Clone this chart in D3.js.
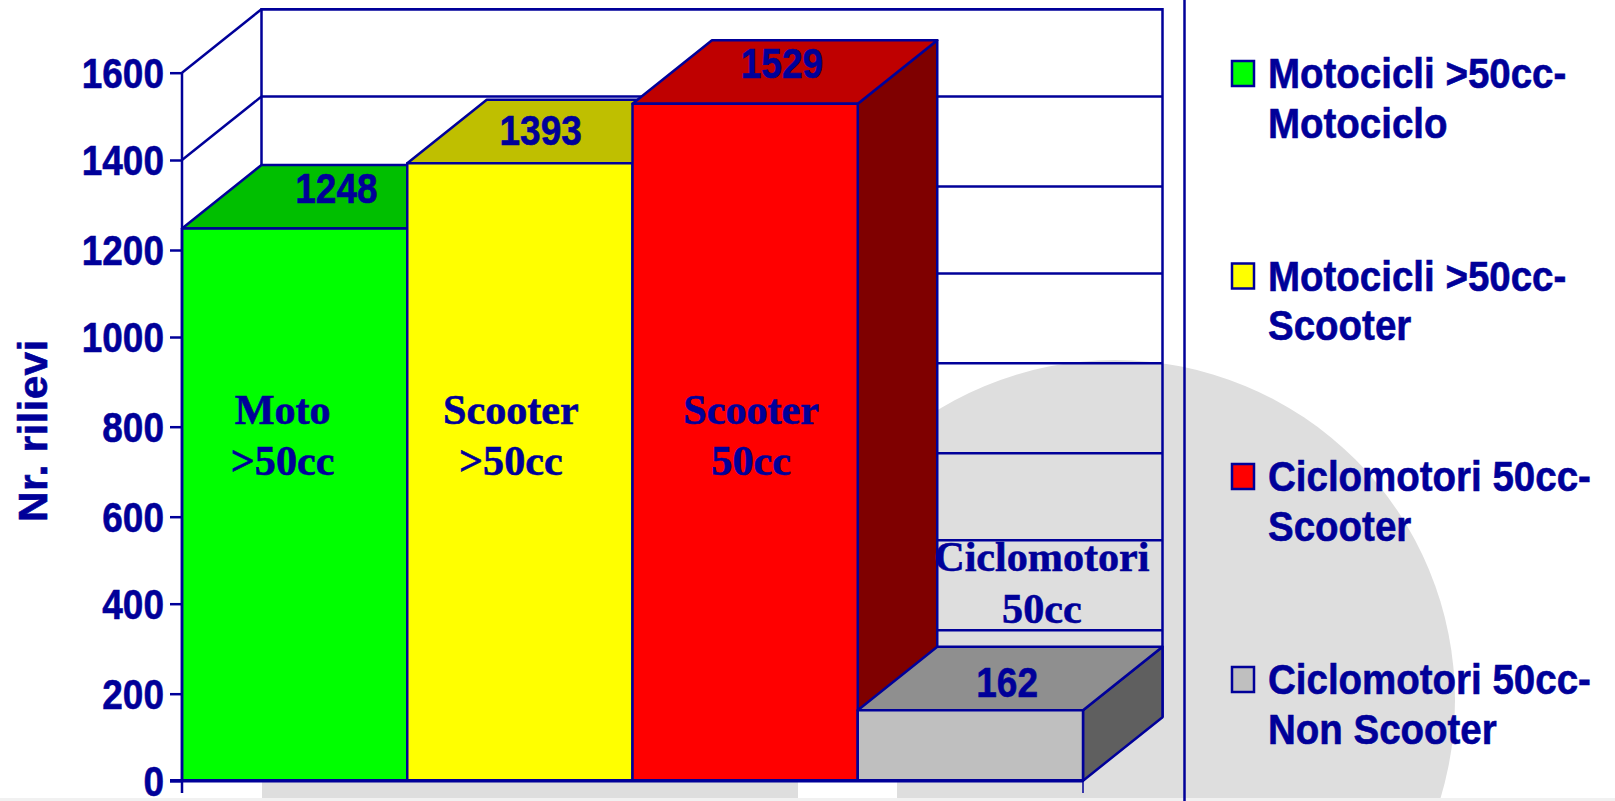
<!DOCTYPE html>
<html>
<head>
<meta charset="utf-8">
<script src="https://cdn.jsdelivr.net/npm/d3@7"></script>
<style>
html,body{margin:0;padding:0;background:#fff;overflow:hidden}
svg{display:block}
text{fill:#000099;stroke:#000099;stroke-width:0.6px}
</style>
</head>
<body>
<svg id="chart" width="1615" height="801"></svg>
<script>
const categories = ["Motocicli >50cc-Motociclo","Motocicli >50cc-Scooter","Ciclomotori 50cc-Scooter","Ciclomotori 50cc-Non Scooter"];
const values = [1248,1393,1529,162];
const yTicks = [0,200,400,600,800,1000,1200,1400,1600];
const barLabels = [["Moto",">50cc"],["Scooter",">50cc"],["Scooter","50cc"],["Ciclomotori","50cc"]];
const legendLines = [["Motocicli >50cc-","Motociclo"],["Motocicli >50cc-","Scooter"],["Ciclomotori 50cc-","Scooter"],["Ciclomotori 50cc-","Non Scooter"]];
const frontColors = ["#00ff00","#ffff00","#ff0000","#bfbfbf"];
const topColors = ["#00bf00","#bfbf00","#bf0000","#8f8f8f"];
const sideColors = ["#007f00","#7f7f00","#7f0000","#5f5f5f"];
const axisTitle = "Nr. rilievi";

const INK = "#000099", GREY = "#dedede";
const SANS = "'Liberation Sans',Arial,sans-serif", SERIF = "'Liberation Serif','Times New Roman',serif";
const DX = 79.5, DY = 63.5, LINE = 2.5;
const svg = d3.select("#chart");

const x = d3.scaleBand().domain(categories).range([182,1083]);
// The source's gridlines are slightly unevenly spaced, so the scale follows them.
const y = d3.scaleLinear().domain(yTicks).range([780.7,693.7,603.7,516.7,426.7,337,250,160,72.7]);

// Watermark behind the chart
const bg = svg.append("g");
bg.append("circle").attr("cx",1115).attr("cy",700).attr("r",340).attr("fill",GREY);
bg.append("rect").attr("x",262).attr("y",781).attr("width",536).attr("height",20).attr("fill",GREY);
bg.append("rect").attr("x",798).attr("y",781).attr("width",99).attr("height",20).attr("fill","#fff");
bg.append("rect").attr("x",0).attr("y",798).attr("width",1615).attr("height",3).attr("fill","#f1f1f1");

// Chart box: back wall, side wall and gridlines
const wall = svg.append("g").attr("fill","none").attr("stroke",INK).attr("stroke-width",LINE);
const plotLeft = x.range()[0], plotRight = x.range()[1], plotTop = y(1600);
wall.append("path").attr("d",`M${plotLeft+DX},${y(0)-DY}V${plotTop-DY}H${plotRight+DX}V${y(0)-DY}`);
wall.selectAll("line.grid").data(yTicks).join("line").attr("class","grid")
  .attr("x1",plotLeft+DX).attr("x2",plotRight+DX).attr("y1",d=>y(d)-DY).attr("y2",d=>y(d)-DY);
wall.selectAll("line.diag").data(yTicks).join("line").attr("class","diag")
  .attr("x1",plotLeft).attr("x2",plotLeft+DX).attr("y1",d=>y(d)).attr("y2",d=>y(d)-DY);
wall.append("line").attr("x1",1184.5).attr("x2",1184.5).attr("y1",0).attr("y2",801);

// Bars, painted from the left so each one covers its neighbour's side
const bars = svg.append("g").attr("stroke",INK).attr("stroke-width",LINE).attr("stroke-linejoin","round");
categories.forEach((c,i)=>{
  const x0 = x(c), x1 = x0 + x.bandwidth(), yt = y(values[i]), yb = y(0);
  bars.append("polygon").attr("fill",sideColors[i])
    .attr("points",[[x1,yb],[x1+DX,yb-DY],[x1+DX,yt-DY],[x1,yt]].join(" "));
  bars.append("polygon").attr("fill",topColors[i])
    .attr("points",[[x0,yt],[x0+DX,yt-DY],[x1+DX,yt-DY],[x1,yt]].join(" "));
  bars.append("rect").attr("fill",frontColors[i])
    .attr("x",x0).attr("y",yt).attr("width",x.bandwidth()).attr("height",yb-yt);
});

// Y axis
const axis = d3.axisLeft(y).tickValues(yTicks).tickFormat(d3.format("d")).tickSize(12).tickPadding(6);
const ag = svg.append("g").attr("transform",`translate(${plotLeft},0)`).call(axis);
ag.select(".domain").remove();
ag.selectAll(".tick line").attr("stroke",INK).attr("stroke-width",LINE);
ag.selectAll(".tick text")
  .attr("x",null).attr("dy",null)
  .attr("transform","translate(-18,14.5) scale(0.86,1)")
  .attr("font-family",SANS).attr("font-weight","bold").attr("font-size",43)
  .attr("text-anchor","end").style("fill",INK);

// Baseline and end ticks
const base = svg.append("g").attr("stroke",INK);
base.append("line").attr("x1",plotLeft-12).attr("x2",plotRight).attr("y1",y(0)).attr("y2",y(0)).attr("stroke-width",3.5);
base.append("line").attr("x1",plotLeft).attr("x2",plotLeft).attr("y1",y(1600)).attr("y2",793).attr("stroke-width",LINE);
base.append("line").attr("x1",plotRight).attr("x2",plotRight).attr("y1",y(0)).attr("y2",793).attr("stroke-width",1.5);

function stext(parent,str,px,py,size,family,sx,anchor){
  return parent.append("text").text(str)
    .attr("transform",`translate(${px},${py}) scale(${sx},1)`)
    .attr("font-family",family).attr("font-weight","bold").attr("font-size",size)
    .attr("text-anchor",anchor||"middle");
}

// Value labels on the top faces
const labels = svg.append("g");
const valueShift = [[2,-25],[-19,-18],[-3,-26],[-3,-13]];
categories.forEach((c,i)=>{
  const cx = x(c)+x.bandwidth()/2+DX/2;
  stext(labels,String(values[i]),cx+valueShift[i][0],y(values[i])+valueShift[i][1],43,SANS,0.86);
});

// Category labels on the bars
const catShift = [-12,-9,6,-2];
const catBase = [[424,475],[424,475],[424,475],[571,623]];
const catOffset = [0,0,0,73.5];
categories.forEach((c,i)=>{
  const cx = x(c)+x.bandwidth()/2+catShift[i]+catOffset[i];
  barLabels[i].forEach((t,j)=>stext(labels,t,cx,catBase[i][j],43,SERIF,0.98));
});

// Axis title
svg.append("text").text(axisTitle)
  .attr("transform","translate(47,522) rotate(-90) scale(1.06,1)")
  .attr("font-family",SANS).attr("font-weight","bold").attr("font-size",40)
  .attr("letter-spacing",0.3);

// Legend
const legendTop = [61,263.5,464,667];
const legend = svg.append("g");
categories.forEach((c,i)=>{
  legend.append("rect").attr("x",1232).attr("y",legendTop[i]).attr("width",22).attr("height",25)
    .attr("fill",frontColors[i]).attr("stroke",INK).attr("stroke-width",LINE);
  legendLines[i].forEach((t,j)=>stext(legend,t,1268,legendTop[i]+27+j*49.5,43,SANS,0.895,"start"));
});
</script>
</body>
</html>
